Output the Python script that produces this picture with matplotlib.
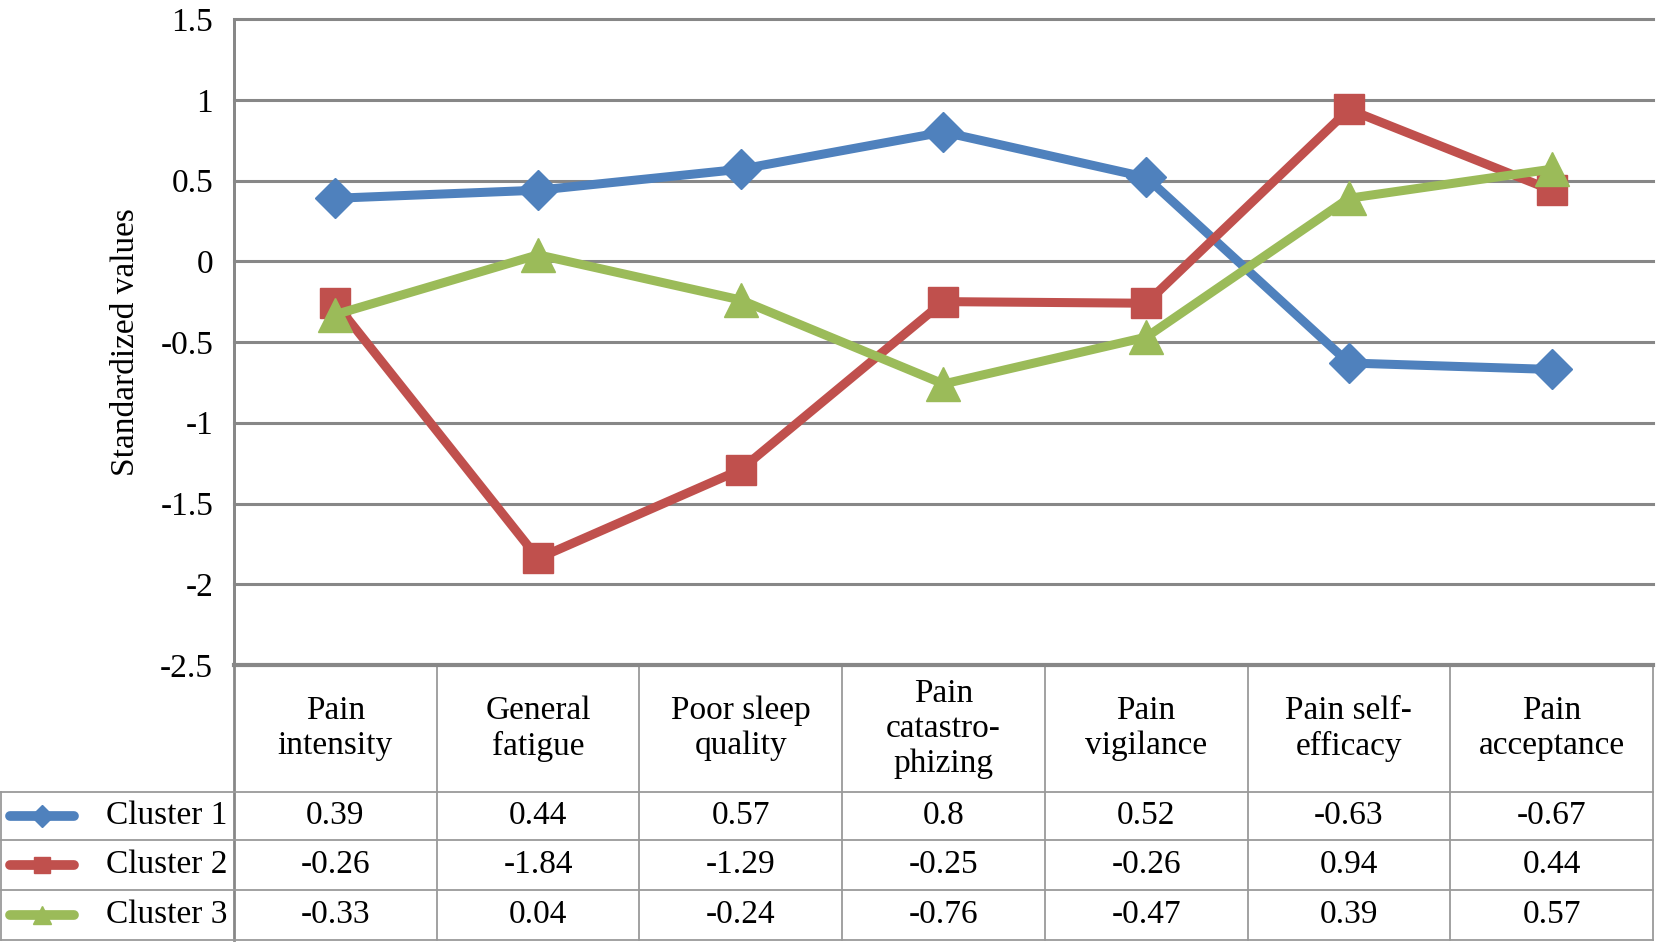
import numpy as np
import matplotlib.pyplot as plt

categories = ['Pain\nintensity', 'General\nfatigue', 'Poor sleep\nquality',
              'Pain\ncatastro-\nphizing', 'Pain\nvigilance', 'Pain self-\nefficacy',
              'Pain\nacceptance']
series_names = ['Cluster 1', 'Cluster 2', 'Cluster 3']
cluster1 = [0.39, 0.44, 0.57, 0.8, 0.52, -0.63, -0.67]
cluster2 = [-0.26, -1.84, -1.29, -0.25, -0.26, 0.94, 0.44]
cluster3 = [-0.33, 0.04, -0.24, -0.76, -0.47, 0.39, 0.57]
yticks = [1.5, 1, 0.5, 0, -0.5, -1, -1.5, -2, -2.5]
ytick_labels = ['1.5', '1', '0.5', '0', '-0.5', '-1', '-1.5', '-2', '-2.5']

colors = ['#4F81BD', '#C0504D', '#9BBB59']
markers = ['D', 's', '^']
msizes = [20, 22, 24]
grid_c = '#878787'
table_c = '#9a9a9a'

plt.rcParams['font.family'] = ['Liberation Serif', 'DejaVu Serif']
fs = 24

W, H = 1658, 942
fig = plt.figure(figsize=(W / 100, H / 100), dpi=100)

# pixel layout
left, right = 234, 1653
top, bottom = 19, 665
row_y = [665, 792, 840, 890, 940]
ncol = len(categories)
colw = (right - left) / ncol

# table layer (pixel coords)
tab = fig.add_axes([0, 0, 1, 1])
tab.set_xlim(0, W)
tab.set_ylim(H, 0)
tab.axis('off')

ax = fig.add_axes([left / W, 1 - bottom / H, (right - left) / W, (bottom - top) / H])
ax.set_xlim(-0.5, ncol - 0.5)
ax.set_ylim(-2.5, 1.5)
ax.set_yticks(yticks)
ax.set_yticklabels(ytick_labels, fontsize=fs)
ax.set_xticks([])
ax.tick_params(axis='y', length=0, pad=15)
for s in ['top', 'right', 'bottom']:
    ax.spines[s].set_visible(False)
ax.spines['left'].set_color(grid_c)
ax.spines['left'].set_linewidth(2)
for y in yticks:
    ax.axhline(y, color=grid_c, lw=2.2 if y != -2.5 else 3, zorder=1, clip_on=False)
ax.set_ylabel('Standardized values', fontsize=fs, labelpad=14)
ax.patch.set_alpha(0)

x = np.arange(ncol)
for vals, c, m, ms in zip([cluster1, cluster2, cluster3], colors, markers, msizes):
    ax.plot(x, vals, color=c, lw=6.5, marker=m, ms=ms, zorder=3, clip_on=False)

# table grid
tab.plot([left, left], [top, row_y[-1]], color=grid_c, lw=2)
for i in range(1, ncol + 1):
    xx = left + i * colw
    tab.plot([xx, xx], [bottom, row_y[-1]], color=table_c, lw=1.3)
for y in row_y[1:]:
    tab.plot([1, right], [y, y], color=table_c, lw=1.3)
tab.plot([1, 1], [row_y[1], row_y[-1]], color=table_c, lw=1.3)

for i, lab in enumerate(categories):
    cx = left + (i + 0.5) * colw
    tab.text(cx, (row_y[0] + row_y[1]) / 2, lab, ha='center', va='center',
             fontsize=fs, linespacing=1.2)

for r, (name, vals) in enumerate(zip(series_names, [cluster1, cluster2, cluster3])):
    cy = (row_y[r + 1] + row_y[r + 2]) / 2
    tab.plot([10, 74], [cy, cy], color=colors[r], lw=7, solid_capstyle='round')
    tab.plot([42], [cy], color=colors[r], marker=markers[r], ms=msizes[r] * 0.55)
    tab.text(106, cy, name, ha='left', va='center', fontsize=fs)
    for i, v in enumerate(vals):
        cx = left + (i + 0.5) * colw
        tab.text(cx, cy, '{:g}'.format(v), ha='center', va='center', fontsize=fs)

fig.savefig('out.png', dpi=100)
